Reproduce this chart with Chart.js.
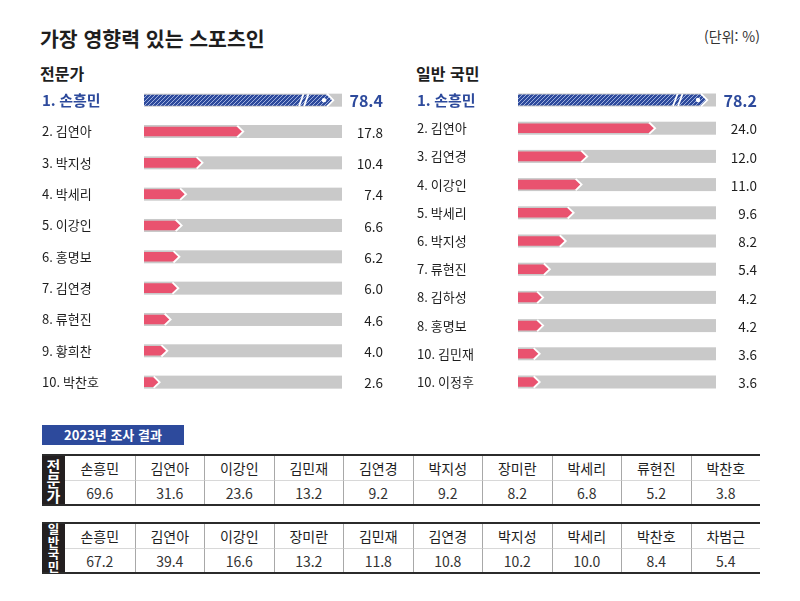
<!DOCTYPE html>
<html lang="ko">
<head>
<meta charset="utf-8">
<script src="https://cdn.jsdelivr.net/npm/chart.js@4.4.1/dist/chart.umd.min.js"></script>
<style>
  html, body { margin: 0; padding: 0; background: #fff; }
  body { width: 800px; height: 601px; position: relative; overflow: hidden;
         font-family: "Noto Sans CJK KR", "Noto Sans", sans-serif; color: #1e1e1e; }
  .abs { position: absolute; white-space: nowrap; }
  #title { left: 40px; top: 24px; font-size: 20.5px; font-weight: 700; line-height: 28px; }
  #unit { right: 40px; top: 26px; font-size: 14px; line-height: 20px; color: #333; }
  .sub { top: 62px; font-size: 16px; font-weight: 700; line-height: 22px; }
  canvas { position: absolute; }
  #badge { left: 42px; top: 425px; width: 142px; height: 20px; background: #2d4a9c; color: #fff;
           font-size: 13px; font-weight: 700; line-height: 20px; text-align: center; }
  .tbl { position: absolute; left: 42px; width: 718px; height: 52px; box-sizing: border-box;
         border-top: 2px solid #2b2b2b; border-bottom: 2px solid #2b2b2b;
         display: grid; grid-template-columns: 23px repeat(10, 1fr); grid-template-rows: 1fr 1fr; }
  .tbl div { display: flex; align-items: center; justify-content: center; font-size: 14px; }
  .tbl .head { grid-row: 1 / span 2; background: #231f20; color: #fff; font-weight: 700;
               flex-direction: column; line-height: 1; }
  .tbl .name { border-left: 1px solid #a8a8a8; color: #1e1e1e; }
  .tbl .val { border-left: 1px solid #a8a8a8; border-top: 1px solid #d8d8d8; color: #333; }
  .tbl .first { border-left: none; }
</style>
</head>
<body>
<div id="title" class="abs">가장 영향력 있는 스포츠인</div>
<div id="unit" class="abs">(단위: %)</div>
<div class="abs sub" style="left:40px">전문가</div>
<div class="abs sub" style="left:416px">일반 국민</div>

<canvas id="expert-chart" width="350" height="322" style="left:42px; top:80px"></canvas>
<canvas id="public-chart" width="349" height="322" style="left:417px; top:80px"></canvas>

<div id="badge" class="abs">2023년 조사 결과</div>
<div id="table-expert" class="tbl" style="top:454px"></div>
<div id="table-public" class="tbl" style="top:522px"></div>

<script>
// 2024 survey
const expertRanks = [1, 2, 3, 4, 5, 6, 7, 8, 9, 10];
const expertNames = ['손흥민', '김연아', '박지성', '박세리', '이강인', '홍명보', '김연경', '류현진', '황희찬', '박찬호'];
const expertValues = [78.4, 17.8, 10.4, 7.4, 6.6, 6.2, 6.0, 4.6, 4.0, 2.6];

const publicRanks = [1, 2, 3, 4, 5, 6, 7, 8, 8, 10, 10];
const publicNames = ['손흥민', '김연아', '김연경', '이강인', '박세리', '박지성', '류현진', '김하성', '홍명보', '김민재', '이정후'];
const publicValues = [78.2, 24.0, 12.0, 11.0, 9.6, 8.2, 5.4, 4.2, 4.2, 3.6, 3.6];

// 2023 survey (tables)
const expert2023Names = ['손흥민', '김연아', '이강인', '김민재', '김연경', '박지성', '장미란', '박세리', '류현진', '박찬호'];
const expert2023Values = [69.6, 31.6, 23.6, 13.2, 9.2, 9.2, 8.2, 6.8, 5.2, 3.8];
const public2023Names = ['손흥민', '김연아', '이강인', '장미란', '김민재', '김연경', '박지성', '박세리', '박찬호', '차범근'];
const public2023Values = [67.2, 39.4, 16.6, 13.2, 11.8, 10.8, 10.2, 10.0, 8.4, 5.4];

const BLUE = '#2d4a9c';
const PINK = '#e9526f';
const TRACK = '#c9c9c9';
const FONT = '"Noto Sans CJK KR", "Noto Sans", sans-serif';

// diagonal hatch for the top bar
function makeHatch() {
    const pc = document.createElement('canvas');
    pc.width = 4; pc.height = 4;
    const p = pc.getContext('2d');
    p.fillStyle = BLUE;
    p.fillRect(0, 0, 4, 4);
    p.strokeStyle = 'rgba(170, 185, 230, 0.9)';
    p.lineWidth = 1;
    p.beginPath();
    p.moveTo(0, 4); p.lineTo(4, 0);
    p.moveTo(-1, 1); p.lineTo(1, -1);
    p.moveTo(3, 5); p.lineTo(5, 3);
    p.stroke();
    return p.createPattern(pc, 'repeat');
}

// draws track, arrow shaped bar and value label for each row
const arrowBars = {
    id: 'arrowBars',
    afterDatasetsDraw(chart) {
        const { ctx, chartArea } = chart;
        const meta = chart.getDatasetMeta(0);
        const values = chart.data.datasets[0].data;
        const hatch = makeHatch();

        meta.data.forEach((bar, i) => {
            const y = bar.y;
            const top = i === 0;

            ctx.save();
            ctx.fillStyle = TRACK;
            ctx.fillRect(chartArea.left, y - 6.5, chartArea.right - chartArea.left, 13);

            const h = top ? 5.5 : 4.8;
            const tip = top ? 5.5 : 5;
            const x0 = bar.base;
            const x1 = Math.min(bar.x, chartArea.right - 10);

            // white halo round the tip
            ctx.strokeStyle = '#fff';
            ctx.lineWidth = 3;
            ctx.beginPath();
            ctx.moveTo(x1 - tip, y - h - 0.5);
            ctx.lineTo(x1 + 0.5, y);
            ctx.lineTo(x1 - tip, y + h + 0.5);
            ctx.stroke();

            ctx.beginPath();
            ctx.moveTo(x0, y - h);
            ctx.lineTo(x1 - tip, y - h);
            ctx.lineTo(x1, y);
            ctx.lineTo(x1 - tip, y + h);
            ctx.lineTo(x0, y + h);
            ctx.closePath();
            ctx.fillStyle = top ? hatch : PINK;
            ctx.fill();

            if (top) {
                // axis break marks
                ctx.strokeStyle = '#fff';
                ctx.lineWidth = 1.8;
                [x1 - 33, x1 - 28].forEach(bx => {
                    ctx.beginPath();
                    ctx.moveTo(bx, y + h + 0.5);
                    ctx.lineTo(bx + 4.5, y - h - 0.5);
                    ctx.stroke();
                });
                ctx.fillStyle = '#fff';
                ctx.beginPath();
                ctx.arc(x1 - 8, y, 2.2, 0, Math.PI * 2);
                ctx.fill();
            }

            ctx.fillStyle = top ? BLUE : '#1e1e1e';
            ctx.font = top ? `700 16px ${FONT}` : `400 13.5px ${FONT}`;
            ctx.textAlign = 'right';
            ctx.textBaseline = 'middle';
            ctx.fillText(values[i].toFixed(1), chartArea.right + 41, y + 1);
            ctx.restore();
        });
    }
};

function buildRankChart(id, ranks, names, values, maxX, pad) {
    const labels = names.map((n, i) => `${ranks[i]}. ${n}`);
    new Chart(document.getElementById(id), {
        type: 'bar',
        data: {
            labels: labels,
            datasets: [{
                data: values,
                backgroundColor: 'rgba(0,0,0,0)',
                borderWidth: 0
            }]
        },
        options: {
            indexAxis: 'y',
            responsive: false,
            animation: false,
            events: [],
            layout: { padding: { top: pad.top, bottom: pad.bottom, right: 50, left: 0 } },
            scales: {
                x: { display: false, min: 0, max: maxX },
                y: {
                    afterFit: s => {
                        s.width = pad.axis;
                        s.paddingTop = 0;
                        s.paddingBottom = 0;
                    },
                    grid: { display: false },
                    border: { display: false },
                    ticks: {
                        crossAlign: 'far',
                        padding: 0,
                        color: c => c.index === 0 ? BLUE : '#1e1e1e',
                        font: c => c.index === 0
                            ? { family: FONT, size: 15, weight: '700' }
                            : { family: FONT, size: 13, weight: '400' }
                    }
                }
            },
            plugins: { legend: { display: false }, tooltip: { enabled: false } }
        },
        plugins: [arrowBars]
    });
}

buildRankChart('expert-chart', expertRanks, expertNames, expertValues, 36, { top: 4.5, bottom: 4.2, axis: 102 });
buildRankChart('public-chart', publicRanks, publicNames, publicValues, 35, { top: 5.9, bottom: 5.9, axis: 101 });

function buildTable(id, head, names, values) {
    const el = document.getElementById(id);
    let html = `<div class="head">${head.split('').map(c => `<span>${c}</span>`).join('')}</div>`;
    names.forEach((n, i) => {
        html += `<div class="name${i === 0 ? ' first' : ''}" style="grid-row:1;grid-column:${i + 2}">${n}</div>`;
    });
    values.forEach((v, i) => {
        html += `<div class="val${i === 0 ? ' first' : ''}" style="grid-row:2;grid-column:${i + 2}">${v.toFixed(1)}</div>`;
    });
    el.innerHTML = html;
}

buildTable('table-expert', '전문가', expert2023Names, expert2023Values);
buildTable('table-public', '일반국민', public2023Names, public2023Values);
document.querySelector('#table-expert .head').style.fontSize = '15px';
document.querySelector('#table-public .head').style.fontSize = '12.5px';
</script>
</body>
</html>
